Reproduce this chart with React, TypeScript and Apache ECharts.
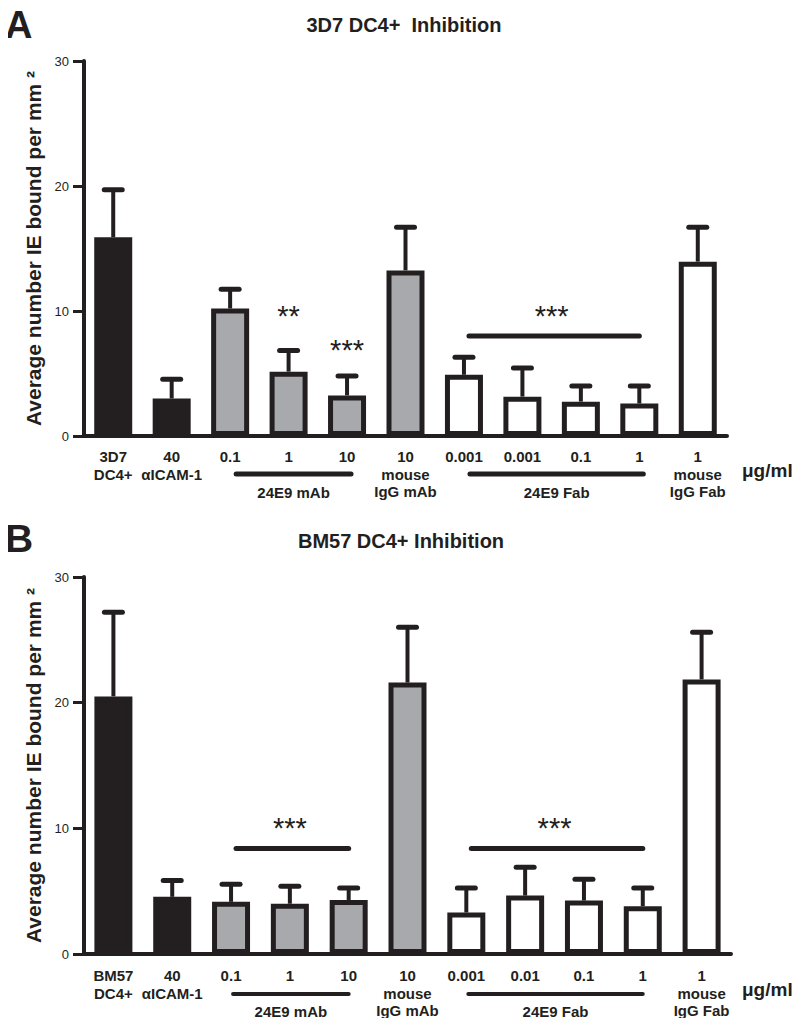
import React, { useEffect, useRef } from "react";
import * as echarts from "echarts";

// ---------- data ----------
const categoriesA = ["3D7\nDC4+", "40\nαICAM-1", "0.1", "1", "10", "10\nmouse\nIgG mAb", "0.001", "0.001", "0.1", "1", "1\nmouse\nIgG Fab"];
const meansA = [15.9, 3.0, 10.2, 5.15, 3.25, 13.25, 4.9, 3.15, 2.75, 2.6, 13.95];
const upperA = [19.7, 4.55, 11.75, 6.85, 4.8, 16.7, 6.3, 5.45, 4.0, 4.0, 16.7];

const categoriesB = ["BM57\nDC4+", "40\nαICAM-1", "0.1", "1", "10", "10\nmouse\nIgG mAb", "0.001", "0.01", "0.1", "1", "1\nmouse\nIgG Fab"];
const meansB = [20.5, 4.55, 4.15, 4.0, 4.3, 21.6, 3.3, 4.65, 4.25, 3.8, 21.85];
const upperB = [27.2, 5.85, 5.55, 5.4, 5.25, 26.0, 5.25, 6.9, 5.95, 5.25, 25.6];

// fill kind per category: 0 = black (controls), 1 = gray (mAb), 2 = white (Fab)
const kinds = [0, 0, 1, 1, 1, 1, 2, 2, 2, 2, 2];

// significance marks: [fromIndex, toIndex, starValue, lineValue (-1 = none), stars]
const sigA: [number, number, number, number, string][] = [
  [3, 3, 10.1, -1, "**"],
  [4, 4, 7.4, -1, "***"],
  [6, 9, 10.1, 8.0, "***"],
];
const sigB: [number, number, number, number, string][] = [
  [2, 4, 10.5, 8.4, "***"],
  [6, 9, 10.5, 8.4, "***"],
];

// groups under the axis: [fromIndex, toIndex, label]
const groupsA: [number, number, string][] = [
  [2, 4, "24E9 mAb"],
  [6, 9, "24E9 Fab"],
];
const groupsB: [number, number, string][] = [
  [2, 4, "24E9 mAb"],
  [6, 9, "24E9 Fab"],
];

const yTicks = { min: 0, max: 30, interval: 10 };
const titleA = "3D7 DC4+  Inhibition";
const titleB = "BM57 DC4+ Inhibition";
const yName = "Average number IE bound per mm ²";
const unitLabel = "μg/ml";

// ---------- style ----------
const FONT = '"Liberation Sans", Arial, Helvetica, sans-serif';
const INK = "#231f20";
const FILLS = [INK, "#a7a9ac", "#ffffff"];

function makeOption() {
  const grids = [
    { left: 84, top: 61, width: 643, height: 375 },
    { left: 84, top: 577, width: 647, height: 377 },
  ];

  const xAxis = [categoriesA, categoriesB].map((cats, gi) => ({
    type: "category",
    gridIndex: gi,
    data: cats,
    boundaryGap: true,
    axisLine: { lineStyle: { color: INK, width: 4 } },
    axisTick: { alignWithLabel: true, length: 9, lineStyle: { color: INK, width: 3 } },
    axisLabel: {
      interval: 0,
      margin: gi === 0 ? 12 : 13,
      color: INK,
      fontFamily: FONT,
      fontSize: 15,
      fontWeight: "bold",
      lineHeight: 17.5,
    },
  }));

  const yAxis = [0, 1].map((gi) => ({
    type: "value",
    gridIndex: gi,
    min: yTicks.min,
    max: yTicks.max,
    interval: yTicks.interval,
    splitLine: { show: false },
    axisLine: { show: true, lineStyle: { color: INK, width: 4 } },
    axisTick: { show: true, length: 11, lineStyle: { color: INK, width: 3 } },
    axisLabel: { margin: 15, color: INK, fontFamily: FONT, fontSize: 13 },
    name: yName,
    nameLocation: "middle",
    nameRotate: 90,
    nameGap: 40,
    nameTextStyle: { color: INK, fontFamily: FONT, fontSize: 21, fontWeight: "bold" },
  }));

  const series: any[] = [];
  const panels = [
    { means: meansA, upper: upperA, sig: sigA, groups: groupsA, off: [6, 4], lineW: 5, lineDy: 38, textDy: 56 },
    { means: meansB, upper: upperB, sig: sigB, groups: groupsB, off: [2, 0], lineW: 4, lineDy: 40, textDy: 57 },
  ];

  panels.forEach((p, gi) => {
    // error bars (drawn beneath bars)
    series.push({
      type: "custom",
      xAxisIndex: gi,
      yAxisIndex: gi,
      z: 1,
      encode: { x: 0, y: [1, 2] },
      data: p.means.map((m, i) => [i, m, p.upper[i]]),
      renderItem: (params: any, api: any) => {
        const x = api.value(0);
        const a = api.coord([x, api.value(1)]);
        const b = api.coord([x, api.value(2)]);
        return {
          type: "group",
          children: [
            { type: "line", shape: { x1: a[0], y1: a[1], x2: b[0], y2: b[1] }, style: { stroke: INK, lineWidth: 4 } },
            { type: "line", shape: { x1: b[0] - 9, y1: b[1], x2: b[0] + 9, y2: b[1] }, style: { stroke: INK, lineWidth: 5, lineCap: "round" } },
          ],
        };
      },
    });

    // bars
    series.push({
      type: "bar",
      xAxisIndex: gi,
      yAxisIndex: gi,
      z: 3,
      barWidth: 38,
      data: p.means.map((v, i) => ({ value: v, itemStyle: { color: FILLS[kinds[i]] } })),
      itemStyle: { borderColor: INK, borderWidth: 5 },
    });

    // significance lines / stars
    series.push({
      type: "custom",
      xAxisIndex: gi,
      yAxisIndex: gi,
      z: 4,
      encode: { x: [0, 1], y: 2 },
      data: p.sig.map((s) => [s[0], s[1], s[2], s[3]]),
      renderItem: (params: any, api: any) => {
        const s = p.sig[params.dataIndex];
        const a = api.coord([s[0], s[2]]);
        const b = api.coord([s[1], s[2]]);
        const cx = (a[0] + b[0]) / 2;
        const children: any[] = [
          {
            type: "text",
            x: cx,
            y: a[1] + 6,
            style: {
              text: s[4],
              fill: INK,
              fontFamily: FONT,
              fontSize: 29,
              align: "center",
              verticalAlign: "middle",
              textAlign: "center",
              textVerticalAlign: "middle",
            },
          },
        ];
        if (s[3] >= 0) {
          const la = api.coord([s[0], s[3]]);
          const lb = api.coord([s[1], s[3]]);
          children.push({
            type: "line",
            shape: { x1: la[0] + 5, y1: la[1], x2: lb[0], y2: lb[1] },
            style: { stroke: INK, lineWidth: 5, lineCap: "round" },
          });
        }
        return { type: "group", children };
      },
    });

    // groups under the axis
    series.push({
      type: "custom",
      xAxisIndex: gi,
      yAxisIndex: gi,
      z: 4,
      clip: false,
      encode: { x: [0, 1], y: 2 },
      data: p.groups.map((g) => [g[0], g[1], 0]),
      renderItem: (params: any, api: any) => {
        const g = p.groups[params.dataIndex];
        const a = api.coord([g[0], 0]);
        const b = api.coord([g[1], 0]);
        const x1 = a[0] + p.off[0];
        const x2 = b[0] + p.off[1];
        return {
          type: "group",
          children: [
            {
              type: "line",
              shape: { x1, y1: a[1] + p.lineDy, x2, y2: a[1] + p.lineDy },
              style: { stroke: INK, lineWidth: p.lineW, lineCap: "round" },
            },
            {
              type: "text",
              x: (x1 + x2) / 2,
              y: a[1] + p.textDy,
              style: {
                text: g[2],
                fill: INK,
                fontFamily: FONT,
                fontSize: 15,
                fontWeight: "bold",
                align: "center",
                verticalAlign: "middle",
                textAlign: "center",
                textVerticalAlign: "middle",
              },
            },
          ],
        };
      },
    });
  });

  const txt = (text: string, x: number, y: number, size: number, align = "left") => ({
    type: "text",
    x,
    y,
    style: {
      text,
      fill: INK,
      fontFamily: FONT,
      fontSize: size,
      fontWeight: "bold",
      align,
      verticalAlign: "middle",
      textAlign: align,
      textVerticalAlign: "middle",
    },
  });

  return {
    animation: false,
    backgroundColor: "#ffffff",
    grid: grids,
    xAxis,
    yAxis,
    series,
    graphic: [
      txt("A", 5, 25, 38),
      txt(titleA, 404, 25, 20, "center"),
      txt(unitLabel, 742, 470, 19),
      txt("B", 5, 538, 39),
      txt(titleB, 401, 541, 20, "center"),
      txt(unitLabel, 742, 989, 19),
    ],
  };
}

export default function App() {
  const ref = useRef<HTMLDivElement>(null);
  useEffect(() => {
    if (!ref.current) return;
    const chart = echarts.init(ref.current, undefined, { renderer: "svg" });
    chart.setOption(makeOption() as any);
    return () => chart.dispose();
  }, []);
  return <div ref={ref} style={{ width: 800, height: 1026, margin: -8 }} />;
}
